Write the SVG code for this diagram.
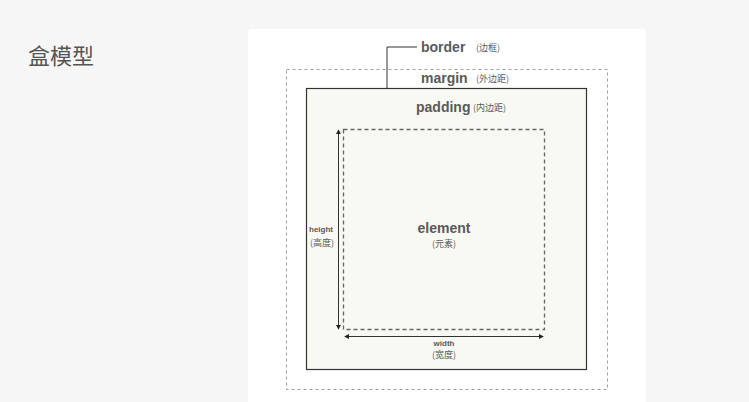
<svg xmlns="http://www.w3.org/2000/svg" width="749" height="402" viewBox="0 0 749 402">
<defs>
<style>
.lbl{font-family:"Liberation Sans","Noto Sans CJK SC",sans-serif;fill:#5a5a5a;font-weight:bold}
.cn{font-family:"Noto Sans CJK SC",sans-serif;fill:#5a5a5a}
.dash{fill:none;stroke:#a0a0a0;stroke-width:1;stroke-dasharray:3,3}
.idash{fill:none;stroke:#666;stroke-width:1.3;stroke-dasharray:4,3}
.conn{fill:none;stroke:#333;stroke-width:1}
</style>
<marker id="ah" viewBox="0 0 6 6" refX="5" refY="3" markerWidth="5" markerHeight="5" orient="auto-start-reverse">
<path d="M0,0 L6,3 L0,6 z" fill="#222"/>
</marker>
</defs>
<rect x="0" y="0" width="749" height="402" fill="#f6f6f6"/>
<rect x="248" y="29" width="398" height="380" rx="4" fill="#ffffff"/>
<text x="28" y="64" font-family="Noto Sans CJK SC,sans-serif" font-size="22" fill="#555">盒模型</text>

<g id="margin">
<rect class="dash" x="286.5" y="69.5" width="321" height="320"/>
<text class="lbl" x="421" y="83" font-size="14">margin</text>
<text class="cn" x="476" y="82" font-size="9">(外边距)</text>
</g>
<g id="border">
<rect x="306.5" y="88.5" width="280" height="281" fill="#f9f9f3" stroke="#333" stroke-width="1.2"/>
<text class="lbl" x="421" y="52" font-size="14">border</text>
<text class="cn" x="476" y="51" font-size="9">(边框)</text>
</g>
<g id="padding">
<text class="lbl" x="416" y="112" font-size="14">padding</text>
<text class="cn" x="473" y="111" font-size="9">(内边距)</text>
</g>
<g id="element">
<rect class="idash" x="343.5" y="129.5" width="201" height="200"/>
<text class="lbl" x="444" y="233" font-size="14" text-anchor="middle">element</text>
<text class="cn" x="444" y="247" font-size="9" text-anchor="middle">(元素)</text>
</g>
<g id="height">
<text class="lbl" x="321" y="232" font-size="8" text-anchor="middle">height</text>
<text class="cn" x="322" y="246" font-size="9" text-anchor="middle">(高度)</text>
</g>
<g id="width">
<text class="lbl" x="444" y="346" font-size="8" text-anchor="middle">width</text>
<text class="cn" x="444" y="358" font-size="9" text-anchor="middle">(宽度)</text>
</g>
<g id="connectors">
<polyline class="conn" points="387,88 387,47 417,47"/>
<line class="conn" x1="338.5" y1="130" x2="338.5" y2="329" marker-start="url(#ah)" marker-end="url(#ah)"/>
<line class="conn" x1="345" y1="336.5" x2="543" y2="336.5" marker-start="url(#ah)" marker-end="url(#ah)"/>
</g>
</svg>
